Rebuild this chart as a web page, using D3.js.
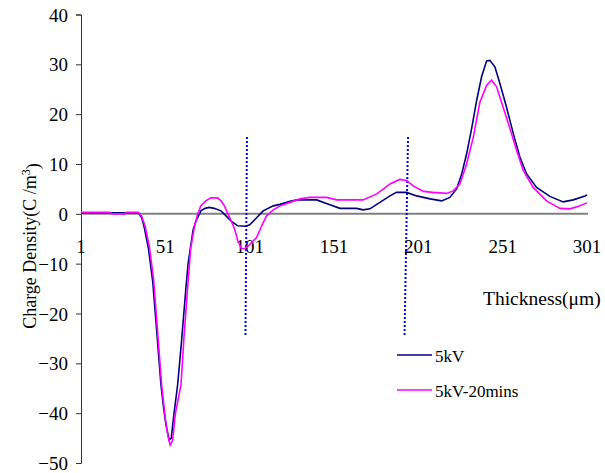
<!DOCTYPE html>
<html>
<head>
<meta charset="utf-8">
<script src="https://cdn.jsdelivr.net/npm/d3@7"></script>
<style>
  body { margin: 0; background: #fff; }
  text { font-family: "Liberation Serif", "Times New Roman", serif; fill: #000; }
</style>
</head>
<body>
<svg id="chart" width="605" height="473"></svg>
<script>
// thickness (um), charge density (C/m^3)
var kv5 = [[1,0.2],[20,0.2],[35,0.2],[37,-0.8],[38.5,-2.7],[41,-7],[43.5,-13.5],[46,-24],[48.4,-34.3],[50,-39],
  [51.4,-42.4],[53.3,-45.4],[54.5,-45],[56,-40.5],[58.3,-34.3],[60.5,-26],[63.2,-14.9],[64.5,-10],[66.2,-6.1],
  [67.5,-3.2],[69.2,-1.4],[72.1,0.6],[74.5,1.1],[77,1.3],[80,1.1],[84,0.6],[87,-0.4],[89.9,-1.4],[93.9,-2.4],
  [98.8,-2.5],[101,-2.2],[104,-1.2],[109,0.6],[115,1.6],[119,1.9],[124.9,2.5],[129,2.8],[140.7,2.8],[148.6,1.8],
  [154.5,1.1],[164.4,1.1],[168.3,0.8],[172.3,1.0],[178.2,2.3],[184.2,3.6],[188,4.3],[194,4.3],[200,3.6],[208,3.0],
  [214.8,2.6],[219.7,3.3],[223.7,5.0],[226.7,8.0],[229.6,12.0],[232.6,17.1],[235.6,22.8],[238.5,27.5],[241.5,30.7],
  [243.4,30.8],[246.4,29.5],[249.4,26.1],[253.3,21.4],[257.3,16.1],[261.2,11.4],[265.2,8.0],[271.1,5.3],[279,3.5],
  [286.9,2.4],[292.8,2.8],[299.8,3.6],[301,3.8]];

var kv5_20 = [[1,0.3],[18,0.3],[19,0],[27,0],[28,0.3],[35,0.3],[37,-0.5],[39,-2.5],[41.5,-6.5],[44,-13],[46.5,-24],
  [48.8,-34.3],[51,-41],[52.5,-44.5],[53.9,-46.4],[55.3,-45.5],[57,-40],[60.3,-34.3],[62,-25],[64.2,-14.9],[66,-7],
  [68.2,-2.7],[70,-0.3],[72,1.6],[75,2.6],[78,3.2],[82,3.2],[84,2.6],[86,1.6],[90,-1.4],[92,-3],[94,-5.4],[96,-6.9],
  [98,-7.0],[100,-6.5],[102,-5.8],[105,-4.8],[108,-2.5],[111,-0.4],[115,0.8],[119,1.6],[124.9,2.3],[130.8,3.0],
  [136.7,3.3],[146.6,3.3],[152.6,2.8],[168.3,2.8],[176.3,4.0],[180,4.9],[184.2,6.0],[190,6.9],[194,6.7],[198,5.6],
  [204,4.5],[209.8,4.3],[217.8,4.1],[221.7,4.6],[225.7,6.0],[229.6,10.0],[233.6,15.4],[237.5,22.4],[241.5,25.8],
  [244.4,26.8],[247.4,25.5],[251.3,21.4],[255.3,17.1],[259.3,12.7],[263.2,8.7],[269.1,5.3],[277,2.6],[285,1.1],
  [290.9,1.0],[296,1.5],[301,2.2]];

var xTicks = [1, 51, 101, 151, 201, 251, 301];
var yTicks = [40, 30, 20, 10, 0, -10, -20, -30, -40, -50];
// dotted markers: [x top, y top, x bottom, y bottom]
var markers = [[99.4, 15.4, 98.5, -24.6], [194.9, 15.4, 192.8, -24.6]];

var series = [
  {name: "5kV", data: kv5, color: "#000080"},
  {name: "5kV-20mins", data: kv5_20, color: "#ff00ff"}
];

var svg = d3.select("#chart");
var x = d3.scaleLinear().domain([1, 301]).range([81, 587]);
var y = d3.scaleLinear().domain([-50, 40]).range([463, 14.5]);

// y axis
var yAxis = svg.append("g").attr("transform", "translate(81,0)")
  .call(d3.axisLeft(y).tickValues(yTicks).tickSize(5).tickPadding(8));
yAxis.attr("font-family", null);
yAxis.select(".domain").attr("stroke", "#333");
yAxis.selectAll(".tick line").attr("stroke", "#333");
yAxis.selectAll(".tick text").style("font-size", "19px").attr("dy", "0.35em");

// x axis along zero
svg.append("line")
  .attr("x1", x(1)).attr("x2", x(301) + 1)
  .attr("y1", y(0)).attr("y2", y(0))
  .attr("stroke", "#808080").attr("stroke-width", 2);

svg.selectAll(".xlab").data(xTicks).enter().append("text")
  .attr("class", "xlab")
  .attr("x", function(d) { return x(d); })
  .attr("y", 253)
  .attr("text-anchor", "middle")
  .style("font-size", "19px")
  .text(function(d) { return d; });

// dotted markers
svg.selectAll(".marker").data(markers).enter().append("line")
  .attr("x1", function(d) { return x(d[0]); })
  .attr("y1", function(d) { return y(d[1]); })
  .attr("x2", function(d) { return x(d[2]); })
  .attr("y2", function(d) { return y(d[3]); })
  .attr("stroke", "#0000ff").attr("stroke-width", 2)
  .attr("stroke-dasharray", "2,2");

var line = d3.line()
  .x(function(d) { return x(d[0]); })
  .y(function(d) { return y(d[1]); });

svg.selectAll(".series").data(series).enter().append("path")
  .attr("fill", "none")
  .attr("stroke", function(d) { return d.color; })
  .attr("stroke-width", 1.6)
  .attr("d", function(d) { return line(d.data); });

// titles
var yt = svg.append("text")
  .attr("transform", "translate(36,246) rotate(-90)")
  .attr("text-anchor", "middle")
  .style("font-size", "18px");
yt.append("tspan").text("Charge Density(C /m");
yt.append("tspan").attr("dy", "-0.5em").style("font-size", "12px").text("3");
yt.append("tspan").attr("dy", "0.5em").text(")");

svg.append("text")
  .attr("x", 483).attr("y", 305)
  .style("font-size", "19.5px")
  .text("Thickness(\u03bcm)");

// legend
var leg = svg.selectAll(".leg").data(series).enter().append("g")
  .attr("transform", function(d, i) { return "translate(397," + (355 + i * 35) + ")"; });
leg.append("line").attr("x1", 0).attr("x2", 35)
  .attr("stroke", function(d) { return d.color; }).attr("stroke-width", 1.6);
leg.append("text").attr("x", 38).attr("y", 7)
  .style("font-size", "17px")
  .text(function(d) { return d.name; });
</script>
</body>
</html>
